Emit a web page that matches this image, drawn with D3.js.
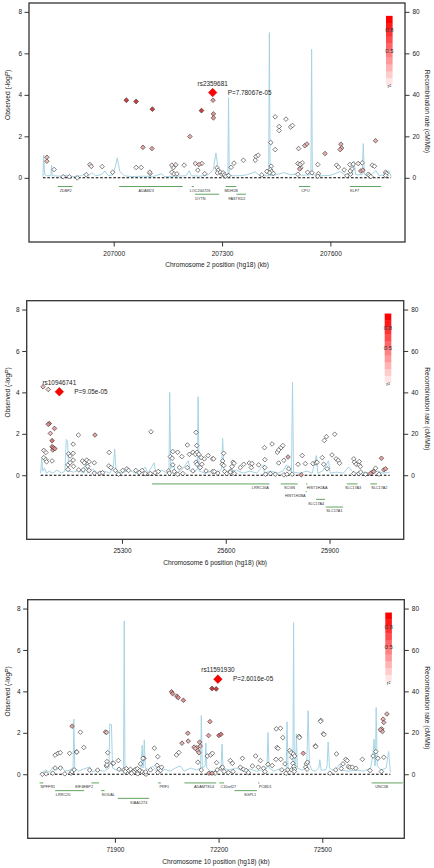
<!DOCTYPE html>
<html><head><meta charset="utf-8">
<script src="https://cdn.jsdelivr.net/npm/d3@7"></script>
<style>html,body{margin:0;padding:0;background:#fff;} svg{display:block;font-family:"Liberation Sans",Arial,Helvetica,sans-serif;}</style>
</head><body><svg id="c" width="434" height="868"></svg>
<script>
// ---------------- DATA ----------------
const chromosomes = ["2", "6", "10"];
const xTicks1 = [207000, 207300, 207600];
const xTicks2 = [25300, 25600, 25900];
const xTicks3 = [71900, 72200, 72500];
const yTicks = [0, 2, 4, 6, 8];
const recTicks = [0, 20, 40, 60, 80];
const legendTicks = [0.8, 0.5];

// index SNPs: [name, position kb, -logP, P label]
const index1 = ["rs2359681", 207274, 4.11, "P=7.78067e-05"];
const index2 = ["rs10946741", 25119, 4.03, "P=9.05e-05"];
const index3 = ["rs11591930", 72198, 4.59, "P=2.6016e-05"];

// SNPs: [position kb, -logP, r2]
const snps1 = [
[207035,3.74,0.85],[207062,3.68,0.85],[207107,3.31,0.85],[207243,3.24,0.85],
[207275,3.74,0.45],[207276,3.08,0.45],[207276,2.89,0.45],[207211,1.99,0.35],
[207081,1.47,0.4],[207106,1.41,0.4],[206815,0.99,0.3],[206815,0.80,0.3],
[206835,0.40,0],[206860,0.05,0],[206877,0.05,0],[206899,0.00,0],[206924,0.15,0],
[206934,0.64,0.1],[206938,0.55,0.1],[206968,0.54,0],[206997,0.27,0],[207062,0.50,0],
[207076,0.50,0],[207100,0.27,0.1],[207101,0.21,0],[207161,0.61,0.1],[207165,0.49,0],
[207172,0.63,0.1],[207161,0.27,0],[207167,0.19,0],[207175,0.19,0],[207195,0.61,0],
[207226,0.69,0.1],[207236,0.64,0.3],[207244,0.69,0.1],[207233,0.37,0],[207252,0.20,0],
[207286,0.48,0],[207289,0.37,0],[207287,0.24,0],[207295,0.27,0],[207300,0.17,0],
[207303,0.24,0],[207306,0.14,0],[207310,0.08,0],[207318,0.11,0],[207325,0.51,0],
[207333,0.71,0],[207359,0.85,0],[207394,1.03,0],[207400,1.09,0],[207392,0.85,0],
[207410,0.14,0],[207424,0.31,0],[207435,1.70,0],[207447,1.36,0],[207436,0.56,0],
[207434,0.40,0],[207437,0.30,0],[207432,0.24,0],[207442,0.21,0],[207447,2.94,0],
[207477,2.83,0],[207458,2.47,0],[207458,2.28,0],[207490,2.45,0],[207495,2.52,0],
[207512,1.41,0.1],[207529,1.55,0.3],[207535,1.63,0.3],[207510,0.69,0.1],[207516,0.64,0.1],
[207522,0.72,0],[207518,0.48,0],[207515,0.43,0.35],[207510,0.17,0],[207537,0.27,0],
[207549,0.24,0],[207565,0.64,0],[207567,0.20,0],[207565,0.08,0],[207585,1.17,0.35],
[207629,1.62,0.35],[207631,1.44,0.35],[207627,1.36,0.35],[207617,0.61,0],[207622,0.52,0],
[207638,0.38,0],[207646,0.10,0],[207654,0.64,0],[207663,0.66,0],[207677,0.69,0.1],
[207688,0.72,0],[207660,0.43,0],[207656,0.18,0],[207655,0.33,0],[207684,0.33,0.35],
[207690,0.37,0.35],[207705,0.17,0],[207708,0.11,0],[207712,0.06,0],[207716,0.61,0],
[207722,0.56,0],[207725,1.79,0.35],[207753,0.27,0],[207755,0.21,0],[207753,0.11,0]
];
const snps2 = [
[25072,4.27,0.3],[25087,4.14,0.2],[25090,2.50,0.5],[25087,2.46,0.5],[25105,2.26,0.4],
[25093,2.02,0.3],[25098,1.67,0.6],[25098,1.38,0.5],[25102,1.33,0.5],[25106,1.28,0.5],
[25100,1.22,0.4],[25074,1.20,0.1],[25080,1.10,0],[25074,0.85,0],[25080,0.75,0],
[25082,0.65,0],[25098,0.69,0],[25174,1.94,0],[25222,1.94,0.4],[25384,2.10,0],
[25146,1.03,0],[25150,0.93,0],[25159,1.06,0],[25159,1.50,0],[25144,0.50,0],
[25144,0.28,0],[25150,0.60,0],[25159,0.73,0],[25160,0.43,0],[25175,0.26,0],
[25186,0.69,0],[25191,0.60,0],[25198,0.73,0],[25205,0.65,0],[25201,0.43,0],
[25220,0.60,0],[25188,0.26,0],[25205,0.23,0],[25220,0.10,0],[25236,0.10,0],
[25244,0.12,0],[25263,1.10,0],[25262,0.45,0],[25268,0.37,0],[25281,0.23,0],
[25290,0.05,0],[25302,0.23,0],[25314,0.31,0],[25319,0.23,0],[25340,0.23,0],
[25350,0.12,0],[25358,0.23,0],[25367,0.08,0],[25382,0.08,0],[25396,0.12,0],
[25405,0.18,0],[25440,0.90,0],[25445,0.82,0],[25461,1.11,0],[25447,1.14,0],
[25473,0.90,0],[25447,0.50,0],[25466,0.37,0],[25489,1.46,0],[25495,1.01,0],
[25505,1.11,0],[25512,1.01,0],[25517,1.11,0],[25514,2.07,0],[25516,1.43,0],
[25522,1.01,0],[25529,0.85,0],[25538,0.79,0],[25549,0.95,0],[25562,0.79,0],
[25514,0.63,0],[25517,0.53,0],[25531,0.53,0],[25526,0.37,0],[25489,0.37,0],
[25505,0.21,0],[25451,0.18,0],[25435,0.21,0],[25437,0.10,0],[25461,0.05,0],
[25476,0.08,0],[25562,0.18,0],[25543,0.21,0],[25594,1.06,0],[25591,0.69,0],
[25590,0.53,0],[25594,0.47,0],[25597,0.18,0],[25603,0.08,0],[25615,0.21,0],
[25621,0.63,0],[25624,0.58,0],[25618,0.42,0],[25613,0.15,0],[25625,0.08,0],
[25565,0.79,0],[25577,0.10,0],[25567,0.18,0],[25642,0.37,0],[25652,0.53,0],
[25668,0.59,0],[25676,0.56,0],[25674,0.37,0],[25695,0.50,0],[25713,0.75,0],
[25713,0.37,0],[25712,1.33,0],[25734,1.51,0],[25749,1.11,0],[25753,1.22,0],
[25760,1.33,0],[25765,1.43,0],[25753,0.59,0],[25768,0.72,0],[25780,0.88,0.4],
[25782,0.31,0],[25715,0.05,0],[25729,0.08,0],[25743,0.05,0],[25768,0.02,0],
[25777,0.05,0],[25792,0.05,0],[25809,0.53,0],[25818,0.02,0.4],[25821,0.95,0],
[25830,0.56,0],[25852,0.56,0],[25861,0.59,0],[25864,0.63,0],[25879,0.85,0],
[25883,0.53,0],[25893,0.31,0],[25885,1.68,0],[25891,1.86,0],[25915,1.98,0],
[25907,0.98,0],[25919,0.79,0],[25925,0.72,0],[25929,0.58,0],[25970,0.79,0],
[25972,0.63,0],[25977,0.53,0],[25985,0.50,0],[25989,0.42,0],[25986,0.66,0],
[25970,0.08,0],[25985,0.08,0],[25990,0.15,0],[26004,0.05,0],[26023,0.15,0],
[26033,0.34,0],[26018,0.08,0.4],[26028,0.18,0.4],[26043,0.05,0],[26050,0.82,0.4],
[26057,0.26,0.4],[26062,0.31,0.4]
];
const snps3 = [
[72181,4.14,0.85],[72193,4.12,0.85],[72064,3.98,0.5],[72067,3.89,0.5],[72079,3.77,0.5],
[72083,3.70,0.5],[72098,3.57,0.5],[71776,2.32,0.4],[71800,2.03,0],[71873,2.04,0.3],
[71876,2.02,0.3],[71810,1.29,0],[72175,2.54,0.4],[72111,1.98,0.4],[72171,1.87,0.4],
[72201,1.87,0.6],[72207,1.93,0.6],[72094,1.50,0.35],[72112,1.60,0.35],[72145,1.55,0.35],
[72129,1.31,0.3],[72137,1.28,0.3],[72147,1.36,0.3],[72133,1.24,0.3],[72140,1.14,0.3],
[72143,1.04,0.3],[72014,1.26,0],[72367,2.19,0],[72379,2.22,0],[72386,1.77,0],
[72433,1.83,0],[72496,2.60,0],[72503,1.95,0],[72480,1.37,0],[72369,1.29,0],
[72687,2.91,0.35],[72676,2.66,0.35],[72678,2.50,0.35],[72672,2.19,0.35],[72674,2.06,0.35],
[72668,2.15,0.35],[71789,1.08,0],[71727,0.92,0],[71735,1.01,0],[71742,1.04,0],
[71769,1.01,0],[71790,1.07,0],[71879,1.04,0],[72085,1.05,0],[72078,0.93,0],
[72024,0.85,0],[71984,0.77,0],[71877,0.61,0],[71893,0.53,0],[71910,0.66,0],
[71875,0.40,0],[71727,0.30,0],[71742,0.30,0],[71773,0.05,0],[71776,0.12,0],
[71782,0.21,0],[71827,0.20,0],[71850,0.20,0],[71877,0.45,0],[71896,0.53,0],
[71912,0.24,0],[71690,0.00,0],[71701,0.02,0],[71755,0.02,0],[71720,0.05,0],
[71926,0.21,0],[71933,0.27,0],[71936,0.08,0],[71940,0.18,0],[71945,0.24,0],
[71955,0.11,0],[71960,0.24,0],[71965,0.27,0],[71972,0.18,0],[71974,0.50,0],
[71981,0.77,0],[71979,0.11,0],[71986,0.05,0],[71990,0.00,0],[71989,0.11,0],
[72003,0.21,0],[72022,0.43,0],[72027,0.27,0],[72032,0.18,0],[72035,0.34,0],
[72024,0.08,0],[71930,0.13,0],[71948,0.05,0],[71966,0.02,0],[72167,0.88,0],
[72177,0.93,0],[72182,1.01,0],[72140,0.58,0],[72150,0.20,0],[72172,0.05,0.4],
[72181,0.05,0.4],[72194,0.56,0],[72207,0.29,0],[72211,0.34,0],[72196,0.21,0],
[72216,0.13,0],[72190,0.05,0],[72234,0.66,0],[72240,0.53,0],[72242,0.13,0],
[72228,0.08,0],[72269,0.77,0],[72263,0.34,0],[72272,0.24,0],[72280,0.18,0],
[72286,0.08,0],[72298,0.40,0],[72307,0.88,0],[72315,0.34,0],[72321,0.66,0],
[72330,0.29,0],[72334,0.13,0],[72343,0.48,0],[72355,0.42,0],[72372,1.25,0],
[72366,0.72,0],[72380,0.72,0],[72383,0.21,0],[72392,0.50,0],[72400,0.21,0],
[72395,0.05,0],[72406,1.14,0],[72410,1.04,0],[72416,0.98,0],[72412,0.82,0],
[72420,0.88,0],[72415,0.53,0],[72418,0.37,0],[72411,0.21,0],[72420,0.24,0],
[72419,0.13,0],[72434,1.77,0],[72445,1.01,0.4],[72454,0.50,0],[72457,0.58,0],
[72452,0.34,0],[72456,0.24,0],[72481,1.33,0],[72495,2.55,0],[72505,1.92,0],
[72522,0.05,0],[72541,0.98,0],[72539,0.21,0],[72555,0.27,0],[72560,0.50,0],
[72568,0.72,0],[72572,0.66,0],[72575,0.37,0],[72580,0.34,0],[72587,0.34,0],
[72597,0.29,0],[72616,0.72,0],[72638,0.18,0],[72647,0.88,0],[72655,1.09,0],
[72661,0.77,0],[72671,0.13,0],[72678,0.82,0]
];

// recombination rate: [position kb, cM/Mb]
const recomb1 = [
[206804,0.5],[206806,11],[206809,1.5],[206815,1],[206826,1],[206828,6],[206830,1],[206850,0.8],
[206870,1.2],[206890,0.6],[206910,1],[206921,2],[206930,1],[206939,2.5],[206950,1],[206965,1.5],
[206976,3.2],[206985,1],[206998,1.5],[207004,5],[207010,9.6],[207017,3],[207030,1],[207050,0.6],
[207080,0.8],[207110,0.7],[207133,2],[207140,0.6],[207170,0.8],[207200,1],[207209,3.4],[207215,1],
[207240,0.8],[207262,1.5],[207276,4],[207283,12],[207290,3],[207300,1.2],[207316,1],[207318,38.7],
[207320,1],[207350,1],[207370,1.5],[207391,2.9],[207405,1],[207429,1],[207431,70],[207433,1],
[207450,1.5],[207470,2.5],[207490,1.5],[207512,2],[207520,1.2],[207546,1.5],[207548,62],[207550,1.5],
[207575,1],[207600,1.2],[207620,2.5],[207627,3],[207640,1.5],[207660,2],[207665,8],[207670,1.5],
[207688,1.5],[207691,16.5],[207694,1.5],[207710,1],[207726,3.5],[207735,1],[207750,1.5],[207762,3.5],
[207768,0.5]
];
const recomb2 = [
[25065,1],[25068,8],[25071,2],[25076,3.5],[25082,1],[25090,2],[25100,1],[25112,2.5],[25125,1],
[25135,2],[25139,17.3],[25143,16],[25146,2],[25160,1.5],[25175,2.5],[25190,1],[25196,7],[25200,1],
[25215,3],[25230,1],[25250,2],[25265,1],[25275,4],[25279,12.7],[25283,2],[25300,1],[25320,2.5],
[25340,1],[25355,1.5],[25367,4],[25375,1],[25393,6],[25398,1],[25415,2.5],[25430,1],[25436,3],
[25438,40],[25441,3],[25448,6],[25455,1],[25470,2],[25492,7],[25497,2],[25510,1.5],[25518,3],
[25520,37.9],[25523,2],[25540,1],[25560,2],[25575,1],[25588,3],[25591,17.8],[25595,2],[25610,1],
[25630,2.5],[25650,1],[25670,2],[25690,1],[25708,5],[25712,1],[25730,2],[25750,1],[25765,2],
[25776,5],[25790,1.5],[25793,44.8],[25796,1.5],[25815,1],[25835,2],[25850,1],[25862,9.5],[25866,1],
[25880,2],[25897,7],[25902,1],[25920,1.5],[25940,1],[25955,4],[25965,2],[25975,1],[26000,1.5],
[26020,1],[26040,2],[26055,1],[26074,1.5]
];
const recomb3 = [
[71688,0.5],[71700,2],[71710,1],[71719,3],[71730,2],[71745,4],[71755,1.5],[71770,2],[71779,3],
[71781,26.6],[71784,3],[71795,1.5],[71810,2.5],[71827,3.5],[71835,1],[71850,2],[71870,1.5],[71883,3],
[71885,24.2],[71890,24],[71893,3],[71905,2],[71920,1.5],[71925,3],[71927,74],[71929,3],[71945,2],
[71960,3],[71975,2],[71979,14],[71981,3],[71983,5],[71985,16.6],[71988,3],[72000,2],[72009,4],
[72020,1.5],[72040,2.5],[72060,1.5],[72075,3],[72089,4],[72100,1.5],[72120,3],[72135,2],[72148,3],
[72150,28.3],[72153,3],[72161,4],[72163,15],[72166,3],[72180,1],[72200,2],[72207,3],[72210,14.6],
[72213,3],[72230,2],[72250,3],[72270,1.5],[72290,2.5],[72310,1.5],[72325,2],[72340,3],[72343,20.1],
[72346,3],[72360,1.5],[72375,2.5],[72390,2],[72396,3],[72398,25.3],[72401,3],[72410,2],[72415,3],
[72417,73.2],[72419,3],[72423,3],[72425,19.5],[72428,3],[72440,2],[72455,3],[72459,30.7],[72463,5],
[72470,2],[72480,1.5],[72490,3],[72493,7],[72497,2],[72510,2],[72514,4],[72517,15.6],[72521,3],
[72535,1.5],[72551,5],[72555,2],[72575,1.5],[72600,2],[72620,1.5],[72640,3],[72647,10],[72650,17],
[72652,4],[72654,5],[72656,32.2],[72659,4],[72670,2],[72685,3],[72692,11],[72697,1]
];

// genes: [name, start kb, end kb, row, label position kb]
const genes1 = [
["ZDBF2",206845,206886,1,206867],["ADAM23",207015,207191,1,207090],["LOC200726",207216,207222,1,207239],
["DYTN",207225,207292,2,207240],["MDH1B",207310,207339,1,207325],["FASTKD2",207340,207366,2,207341],
["CPO",207513,207544,1,207531],["KLF7",207654,207740,1,207667]
];
const genes2 = [
["LRRC16A",25387,25726,1,25700],["SCGN",25759,25808,1,25784],["HIST1H2AA",25832,25836,1,25864],
["HIST1H2BA",25831,25834,2,25801],["SLC17A4",25861,25887,3,25861],["SLC17A1",25889,25939,4,25914],
["SLC17A3",25950,25981,1,25968],["SLC17A2",26018,26037,1,26044]
];
const genes3 = [
["NPFFR1",71682,71693,1,71706],["LRRC20",71727,71811,2,71750],["EIF4EBP2",71832,71854,1,71811],
["NODAL",71860,71870,2,71881],["KIAA1274",71908,71999,3,71969],["PRF1",72025,72033,1,72043],
["ADAMTS14",72101,72193,1,72158],["C10orf27",72202,72216,1,72228],["SGPL1",72246,72311,2,72291],
["PCBD1",72314,72318,1,72335],["UNC5B",72643,72733,1,72672]
];

// ---------------- LAYOUT ----------------
const frames = [
  {left:29,   right:405,   top:3,     bottom:242},
  {left:26.7, right:403.7, top:300.7, bottom:539.3},
  {left:27.7, right:404.3, top:599.7, bottom:838.3}
];
const panels = [
  {snps:snps1, recomb:recomb1, genes:genes1, index:index1, xt:xTicks1, chr:chromosomes[0]},
  {snps:snps2, recomb:recomb2, genes:genes2, index:index2, xt:xTicks2, chr:chromosomes[1]},
  {snps:snps3, recomb:recomb3, genes:genes3, index:index3, xt:xTicks3, chr:chromosomes[2]}
];

const svg = d3.select("#c");
const ylimLo = -8/3, ylimHi = 8, ext = 0.04*(ylimHi-ylimLo);
const ptFill = d3.scaleLinear().domain([0,1]).range(["#ffffff","#c81c1c"]);
const legFill = d3.interpolateRgb("#ffffff","#ff0000");
const diamond = r => `M0,${-r}L${r},0L0,${r}L${-r},0Z`;
const TXT = "#222";

panels.forEach((p, i) => {
  const f = frames[i];
  const xe = d3.extent(p.recomb, d => d[0]);
  const pad = 0.04*(xe[1]-xe[0]);
  const x = d3.scaleLinear().domain([xe[0]-pad, xe[1]+pad]).range([f.left, f.right]);
  const y = d3.scaleLinear().domain([ylimLo-ext, ylimHi+ext]).range([f.bottom, f.top]);
  const yr = d3.scaleLinear().domain([(ylimLo-ext)*10, (ylimHi+ext)*10]).range([f.bottom, f.top]);
  const g = svg.append("g");

  const cid = "clip"+i;
  g.append("clipPath").attr("id", cid).append("rect")
    .attr("x", f.left).attr("y", f.top).attr("width", f.right-f.left).attr("height", f.bottom-f.top);
  const inner = g.append("g").attr("clip-path", `url(#${cid})`);

  // recombination
  inner.append("path").datum(p.recomb)
    .attr("d", d3.line().x(d => x(d[0])).y(d => yr(d[1])))
    .attr("fill","none").attr("stroke","#a6d4e4").attr("stroke-width",1);

  // baseline
  inner.append("line").attr("x1", x(xe[0])).attr("x2", x(xe[1]))
    .attr("y1", y(0)).attr("y2", y(0))
    .attr("stroke","#000").attr("stroke-width",1.1).attr("stroke-dasharray","2.6,1.8");

  // genes
  const rowY = r => y(0) + 8.7 + 7.7*(r-1);
  p.genes.forEach(gn => {
    const x1 = x(gn[1]), x2 = Math.max(x(gn[2]), x(gn[1])+1);
    inner.append("line").attr("x1", x1).attr("x2", x2)
      .attr("y1", rowY(gn[3])).attr("y2", rowY(gn[3]))
      .attr("stroke","#4f9b4f").attr("stroke-width",0.9);
    inner.append("text").attr("x", x(gn[4])).attr("y", rowY(gn[3]) + 5.4)
      .attr("text-anchor","middle").attr("font-size",3.8).attr("fill","#333").text(gn[0]);
  });

  // SNPs
  const sorted = p.snps.slice().sort((a,b) => a[2]-b[2]);
  inner.selectAll("path.snp").data(sorted).enter().append("path")
    .attr("class","snp")
    .attr("d", d => diamond(d[2] > 0.7 ? 2.4 : 2.3))
    .attr("transform", d => `translate(${x(d[0])},${y(d[1])})`)
    .attr("fill", d => ptFill(d[2]))
    .attr("stroke", "#2a2a2a").attr("stroke-width", 0.6);

  // index SNP
  const ix = x(p.index[1]), iy = y(p.index[2]);
  g.append("path").attr("d", diamond(4.3)).attr("transform", `translate(${ix},${iy})`)
    .attr("fill","#ff0000").attr("stroke","#b00000").attr("stroke-width",0.5);
  g.append("text").attr("x", ix).attr("y", iy - 7).attr("text-anchor","middle")
    .attr("font-size",6.4).attr("fill",TXT).text(p.index[0]);
  g.append("text").attr("x", ix + 15).attr("y", iy + 2.2)
    .attr("font-size",6.4).attr("fill",TXT).text(p.index[3]);

  // legend
  const lx = f.right - 19, lw = 6.6, lTop = y(8) + 4, lH = 69;
  const ly = d3.scaleLinear().domain([0,1]).range([lTop+lH, lTop]);
  d3.range(10).forEach(k => {
    g.append("rect").attr("x", lx).attr("y", ly((k+1)/10)).attr("width", lw)
      .attr("height", ly(k/10)-ly((k+1)/10)+0.3).attr("fill", legFill((k+1)/10));
  });
  legendTicks.forEach(t => {
    g.append("text").attr("x", lx + lw/2).attr("y", ly(t) + 2.2).attr("text-anchor","middle")
      .attr("font-size",6).attr("fill","#333").text(t);
  });
  g.append("text").attr("x", lx + lw/2).attr("y", ly(0) + 3.5).attr("text-anchor","middle")
    .attr("font-size",5.5).attr("fill","#333").text("r²");

  // frame
  g.append("rect").attr("x", f.left).attr("y", f.top).attr("width", f.right-f.left)
    .attr("height", f.bottom-f.top).attr("fill","none").attr("stroke","#333").attr("stroke-width",1.3);

  // axes
  const styleAxis = sel => {
    sel.select(".domain").remove();
    sel.selectAll(".tick line").attr("stroke","#333").attr("stroke-width",1);
    sel.selectAll(".tick text").attr("fill",TXT).attr("font-size",6.5)
      .attr("font-family",'"Liberation Sans",Arial,sans-serif');
  };
  g.append("g").attr("transform",`translate(${f.left},0)`)
    .call(d3.axisLeft(y).tickValues(yTicks).tickSize(4.5).tickPadding(2.5).tickFormat(d3.format("d")))
    .call(styleAxis);
  g.append("g").attr("transform",`translate(${f.right},0)`)
    .call(d3.axisRight(yr).tickValues(recTicks).tickSize(4.5).tickPadding(3).tickFormat(d3.format("d")))
    .call(styleAxis);
  g.append("g").attr("transform",`translate(0,${f.bottom})`)
    .call(d3.axisBottom(x).tickValues(p.xt).tickSize(4.5).tickPadding(4.5).tickFormat(d3.format("d")))
    .call(styleAxis);

  // titles
  g.append("text").attr("x", (f.left+f.right)/2).attr("y", f.bottom + 25.3)
    .attr("text-anchor","middle").attr("font-size",6.6).attr("fill",TXT)
    .text(`Chromosome ${p.chr} position (hg18) (kb)`);
  const yl = g.append("text").attr("transform",`translate(9.8,${y(4)}) rotate(-90)`)
    .attr("text-anchor","middle").attr("font-size",6.6).attr("fill",TXT);
  yl.append("tspan").text("Observed (-log");
  yl.append("tspan").attr("font-style","italic").text("P");
  yl.append("tspan").text(")");
  g.append("text").attr("transform",`translate(425.3,${y(3.2)}) rotate(90)`)
    .attr("text-anchor","middle").attr("font-size",6.6).attr("fill",TXT)
    .text("Recombination rate (cM/Mb)");
});
</script></body></html>
